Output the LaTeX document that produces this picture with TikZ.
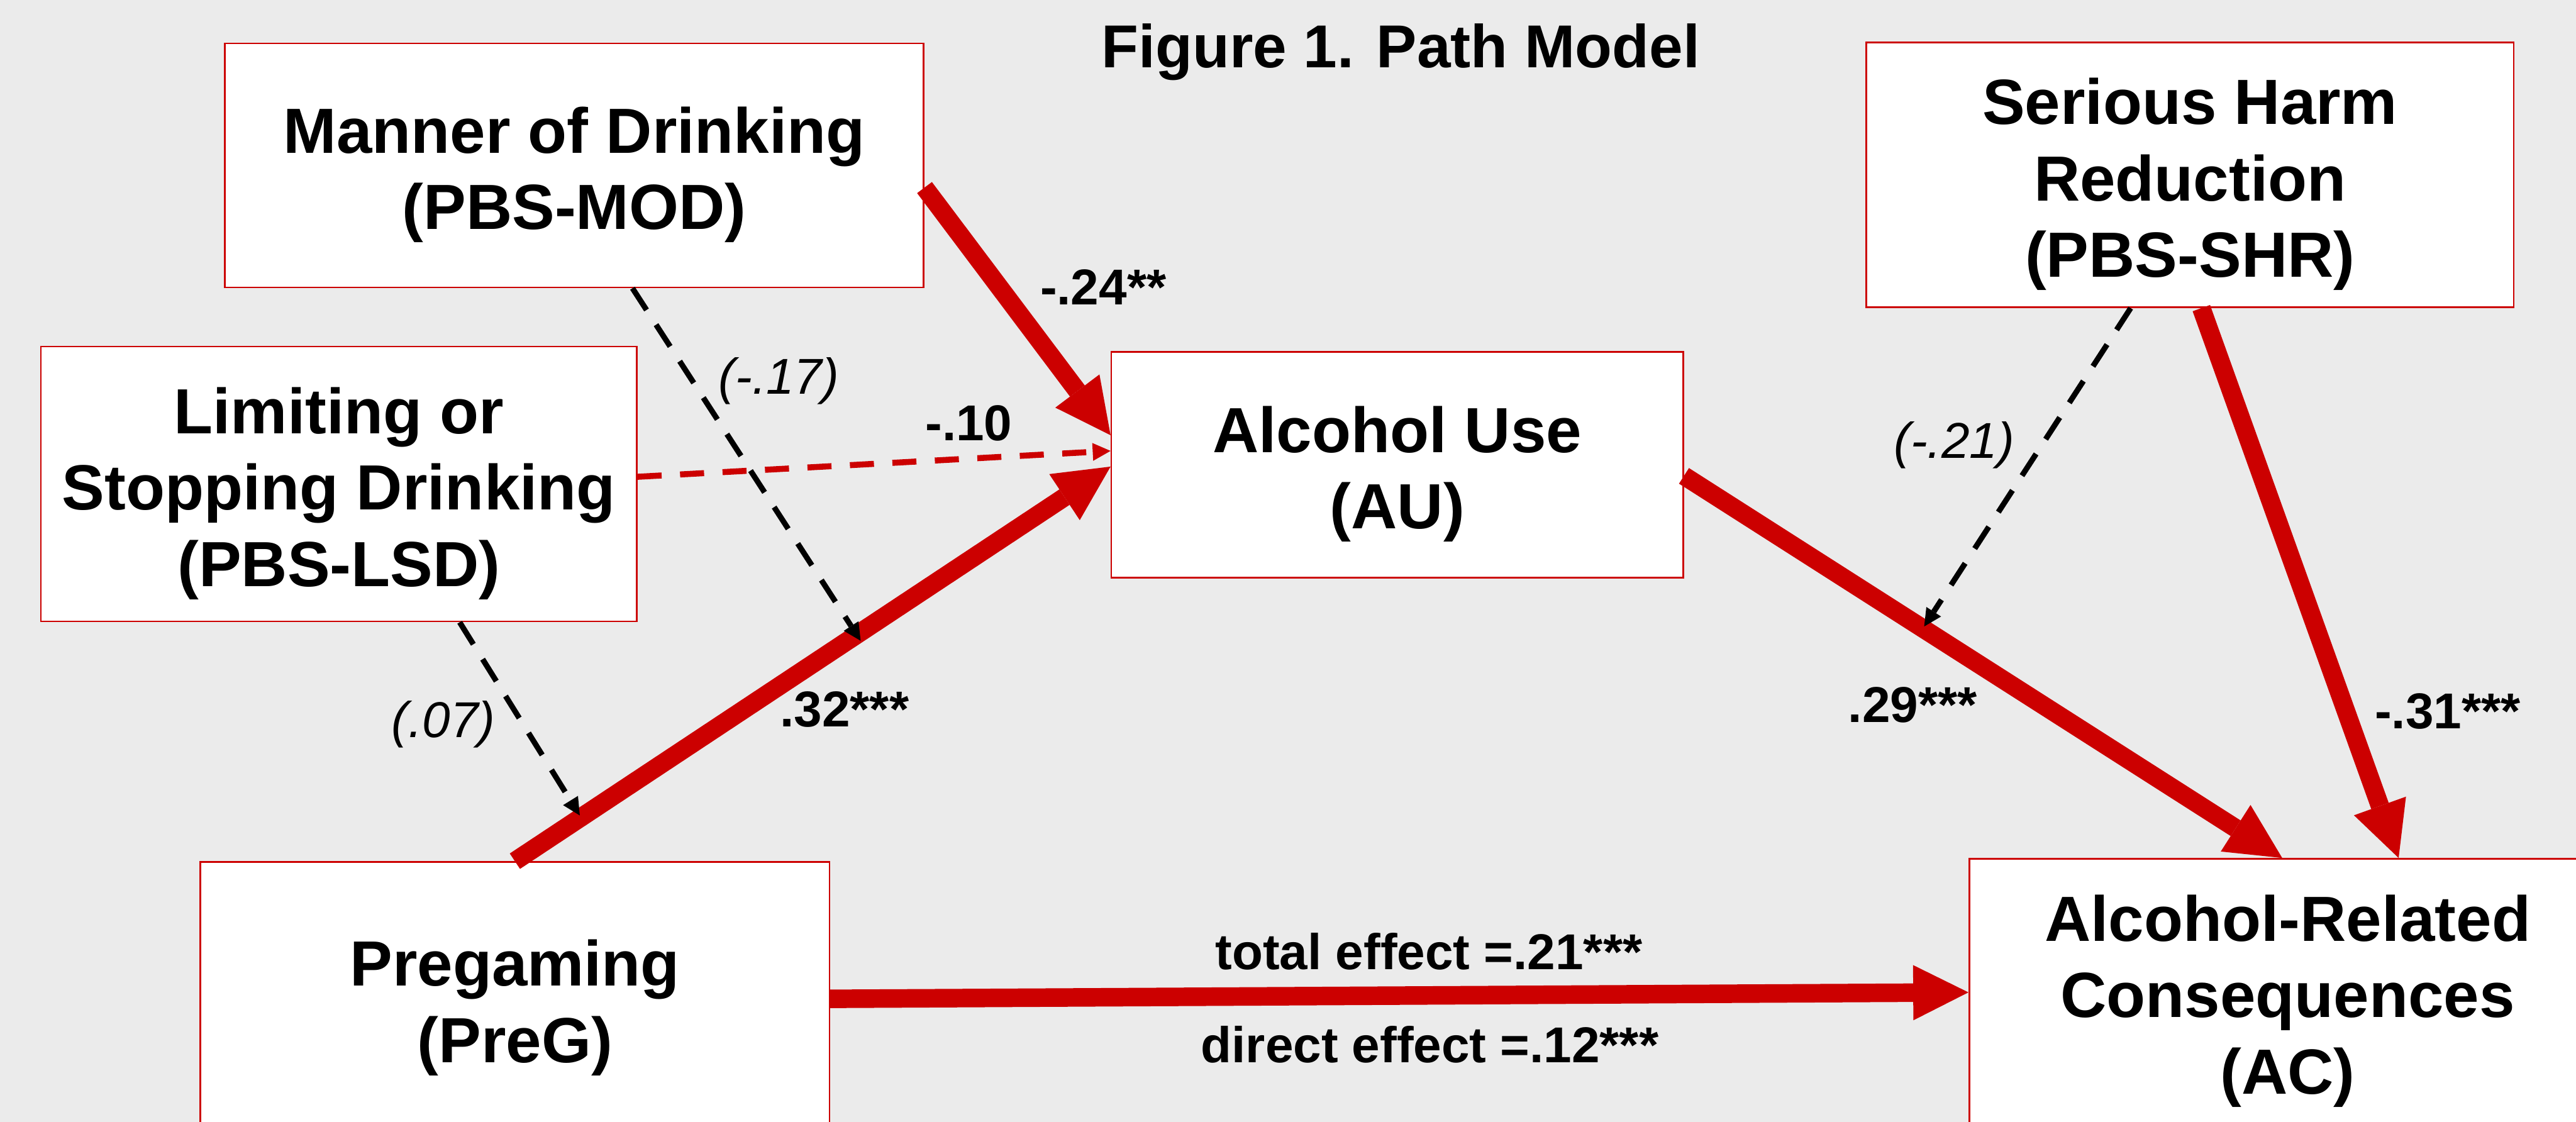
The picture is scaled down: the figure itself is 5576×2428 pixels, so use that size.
\documentclass[tikz,border=0pt]{standalone}
\usepackage{fontspec}
\setmainfont{Liberation Sans}
\usetikzlibrary{arrows.meta}
\definecolor{bg}{HTML}{EBEBEB}
\definecolor{dred}{HTML}{CC0000}
\newcommand{\topstrut}{\rule{0pt}{40pt}}
\begin{document}
\begin{tikzpicture}[x=0.01cm,y=-0.01cm,
  box/.style={draw=dred, line width=1pt, fill=white, align=center, inner sep=0pt,
    font=\fontsize{39.3}{47}\selectfont\bfseries},
  lab/.style={font=\fontsize{31}{37}\selectfont\bfseries, inner sep=0pt},
  ilab/.style={font=\fontsize{31}{37}\selectfont\itshape, inner sep=0pt},
  bigarrow/.style={draw=dred, line width=11.4pt,
    -{Triangle[length=34pt,width=34pt,line width=0pt]}},
  rdash/.style={draw=dred, line width=3.7pt, dash pattern=on 0.52cm off 0.40cm,
    -{Triangle[length=11pt,width=11pt,line width=0pt]}},
  kdash/.style={draw=black, line width=3.4pt, dash pattern=on 0.56cm off 0.38cm,
    -{Triangle[length=10.8pt,width=10.8pt,line width=0pt]}}
]
\path[use as bounding box, fill=bg] (0,0) rectangle (5576,2428);

\node[font=\fontsize{37.3}{44}\selectfont\bfseries, anchor=base, inner sep=0pt] (title) at (3032,146) {Figure 1. Path Model};

\node[box, minimum width=15.12cm, minimum height=5.28cm] (mod) at (1243,358) {\topstrut Manner of Drinking\\(PBS-MOD)};
\node[box, minimum width=12.89cm, minimum height=5.95cm] (lsd) at (733.5,1047.5) {\topstrut Limiting or\\Stopping Drinking\\(PBS-LSD)};
\node[box, minimum width=12.37cm, minimum height=4.88cm] (au) at (3024.5,1006) {\topstrut Alcohol Use\\(AU)};
\node[box, minimum width=14.01cm, minimum height=5.73cm] (shr) at (4740.5,378.5) {\topstrut Serious Harm\\Reduction\\(PBS-SHR)};
\node[box, minimum width=13.61cm, minimum height=5.90cm] (preg) at (1114.5,2161) {\topstrut Pregaming\\(PreG)};
\node[box, minimum width=13.78cm, minimum height=5.75cm] (ac) at (4952,2146.5) {\topstrut Alcohol-Related\\Consequences\\(AC)};

\coordinate (j1) at (1863,1387);
\coordinate (j2) at (1255,1765);
\coordinate (j3) at (4165,1356);

\draw[bigarrow] (mod.east |- 0,406) -- (au.west |- 0,942);
\draw[rdash] (lsd.east |- 0,1032) -- (au.west |- 0,976);
\draw[bigarrow] (preg.north) -- (au.west |- 0,1010);
\draw[bigarrow] (au.east |- 0,1030) -- (ac.north -| 4940,0);
\draw[bigarrow] (shr.south -| 4765,0) -- (ac.north -| 5192,0);
\draw[bigarrow] (preg.east |- 0,2162) -- (ac.west |- 0,2148);

\draw[kdash] (mod.south -| 1369,0) -- (j1);
\draw[kdash] (lsd.south -| 995,0) -- (j2);
\draw[kdash] (shr.south -| 4612,0) -- (j3);

\node[lab] (l24) at (2388,622) {-.24**};
\node[lab] (l10) at (2097,916) {-.10};
\node[ilab] (l17) at (1686,825) {(-.17)};
\node[lab] (l32) at (1828,1536) {.32***};
\node[ilab] (l07) at (960,1568) {(.07)};
\node[ilab] (l21) at (4230,963) {(-.21)};
\node[lab] (l29) at (4140,1526) {.29***};
\node[lab] (l31) at (5298,1540) {-.31***};
\node[lab, anchor=base] (ltot) at (3093,2098) {total effect =.21***};
\node[lab, anchor=base] (ldir) at (3095,2300) {direct effect =.12***};
\end{tikzpicture}
\end{document}
